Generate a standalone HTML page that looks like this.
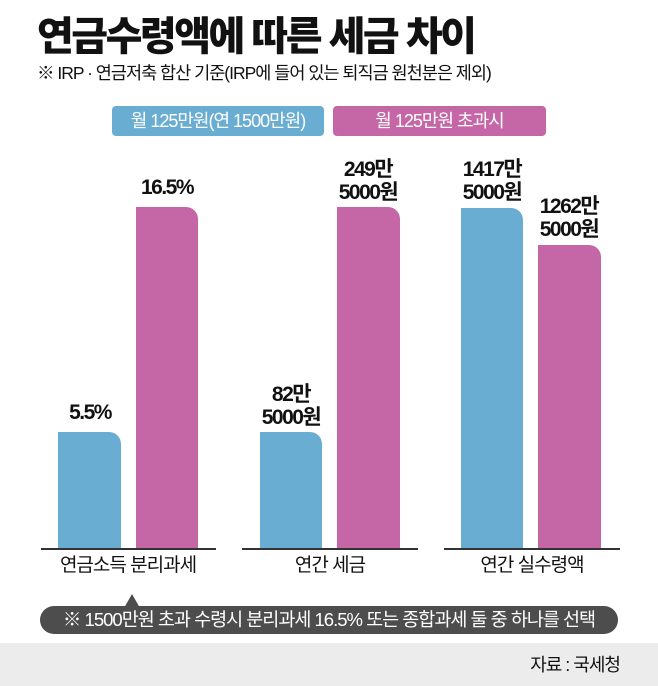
<!DOCTYPE html>
<html><head><meta charset="utf-8"><style>
body{margin:0;width:658px;height:686px;background:#fff;position:relative;overflow:hidden;font-family:"Liberation Sans","Noto Sans CJK KR",sans-serif;color:#111}
.a{position:absolute}
.t{left:37px;top:4px;font-size:40px;font-weight:900;letter-spacing:-2.5px;white-space:nowrap}
.s{left:37px;top:60px;font-size:17.5px;letter-spacing:-1px;white-space:nowrap}
.lg{top:106px;height:30px;border-radius:4px;color:#fff;font-size:18px;line-height:30px;text-align:center;letter-spacing:-1px}
.b{border-top-right-radius:12px}
.bl{background:#6aadd2}.pk{background:#c567a7}
.v{font-size:21px;font-weight:bold;text-align:center;line-height:23px;letter-spacing:-1.5px;width:90px}
.ln{height:2px;background:#333;top:548px}
.c{top:550px;font-size:19px;text-align:center;width:200px;letter-spacing:-1px}
</style></head><body>
<div class="a t">연금수령액에 따른 세금 차이</div>
<div class="a s">※ IRP · 연금저축 합산 기준(IRP에 들어 있는 퇴직금 원천분은 제외)</div>
<div class="a lg bl" style="left:112px;width:212px">월 125만원(연 1500만원)</div>
<div class="a lg pk" style="left:333px;width:213px">월 125만원 초과시</div>

<div class="a b bl" style="left:58px;top:432px;width:63px;height:116px"></div>
<div class="a b pk" style="left:136px;top:207px;width:62px;height:341px"></div>
<div class="a b bl" style="left:260px;top:432px;width:62px;height:116px"></div>
<div class="a b pk" style="left:337px;top:207px;width:63px;height:341px"></div>
<div class="a b bl" style="left:461px;top:208px;width:62px;height:340px"></div>
<div class="a b pk" style="left:538px;top:245px;width:63px;height:303px"></div>

<div class="a ln" style="left:41px;width:175px"></div>
<div class="a ln" style="left:242px;width:176px"></div>
<div class="a ln" style="left:444px;width:176px"></div>

<div class="a v" style="left:45px;top:401px">5.5%</div>
<div class="a v" style="left:122px;top:176px">16.5%</div>
<div class="a v" style="left:246px;top:383px">82만<br>5000원</div>
<div class="a v" style="left:323px;top:158px">249만<br>5000원</div>
<div class="a v" style="left:447px;top:158px">1417만<br>5000원</div>
<div class="a v" style="left:524px;top:195px">1262만<br>5000원</div>

<div class="a c" style="left:28px">연금소득 분리과세</div>
<div class="a c" style="left:230px">연간 세금</div>
<div class="a c" style="left:432px">연간 실수령액</div>

<div class="a" style="left:124px;top:594px;width:0;height:0;border-left:8px solid transparent;border-right:8px solid transparent;border-bottom:14px solid #4d4d4d"></div>
<div class="a" style="left:40px;top:606px;width:578px;height:28px;border-radius:14px;background:#4d4d4d;color:#fff;font-size:18.5px;line-height:28px;text-align:center;letter-spacing:-1px;white-space:nowrap">※ 1500만원 초과 수령시 분리과세 16.5% 또는 종합과세 둘 중 하나를 선택</div>

<div class="a" style="left:0;top:643px;width:658px;height:43px;background:#ececec"></div>
<div class="a" style="right:38px;top:651px;font-size:18px;letter-spacing:-1px">자료 : 국세청</div>
</body></html>
